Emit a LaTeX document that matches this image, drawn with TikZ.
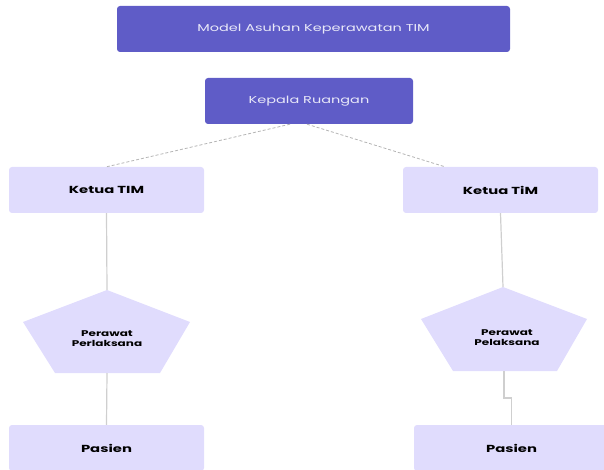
\documentclass[tikz,border=0pt]{standalone}
\usepackage{fontspec}
\setmainfont{Poppins}[FakeStretch=1.45]
\usetikzlibrary{calc}
\definecolor{darkfill}{HTML}{5F5CC7}
\definecolor{lightfill}{HTML}{E0DCFD}
\definecolor{darktext}{HTML}{E8E8F8}
\definecolor{linegray}{HTML}{CFCFCF}
\definecolor{dashgray}{HTML}{B4B4B4}
\tikzset{
  headbox/.style={fill=darkfill, rounded corners=3pt, minimum height=46pt,
    text=darktext, font=\fontsize{10}{12}\selectfont, inner sep=0pt},
  teambox/.style={fill=lightfill, rounded corners=3pt, minimum width=195pt,
    minimum height=46pt, text=black, font=\bfseries\fontsize{10.2}{12}\selectfont, inner sep=0pt},
  pentlabel/.style={text=black, align=center, font=\bfseries\fontsize{8.3}{10}\selectfont, inner sep=0pt},
  link/.style={draw=linegray, line width=1.2pt},
  dashlink/.style={draw=dashgray, line width=0.8pt, dash pattern=on 3pt off 2pt},
}
\begin{document}
\begin{tikzpicture}[x=1pt,y=-1pt]
\useasboundingbox (0,0) rectangle (604,470);

% header boxes
\node[headbox, minimum width=393pt] (title) at (313.5,29) {Model Asuhan Keperawatan TIM};
\node[headbox, minimum width=208pt] (head) at (309,101) {Kepala Ruangan};

% team leaders
\node[teambox] (leadL) at (106.5,190) {Ketua TIM};
\node[teambox] (leadR) at (500.5,190) {Ketua TiM};

% nurses (flattened pentagons)
\coordinate (nLtop) at (107,290);
\coordinate (nLbot) at (107,373);
\fill[lightfill] (107,290) -- (190,322) -- (160,373) -- (55,373) -- (23,322) -- cycle;
\node[pentlabel] (nurseL) at (107,339) {Perawat\\Perlaksana};

\coordinate (nRtop) at (503,287);
\coordinate (nRbot) at (504,371);
\fill[lightfill] (503,287) -- (587,319) -- (557,371) -- (453,371) -- (421,319) -- cycle;
\node[pentlabel] (nurseR) at (507,338) {Perawat\\Pelaksana};

% patients
\node[teambox] (patL) at (106.5,448) {Pasien};
\node[teambox] (patR) at (511.5,448) {Pasien};

% connectors
\coordinate (hL) at ($(head.south)+(-19,0)$);
\coordinate (hR) at ($(head.south)+(-2,0)$);
\coordinate (lR) at ($(leadR.north)+(-55.5,0)$);
\draw[dashlink] (hL) -- (leadL.north);
\draw[dashlink] (hR) -- (lR);

\draw[link] (leadL.south) -- (nLtop);
\draw[link] (nLbot) -- (patL.north);
\draw[link] (leadR.south) -- (nRtop);
\draw[link] (nRbot) -- (504,398) -- (511.5,398) -- (patR.north);
\end{tikzpicture}
\end{document}
